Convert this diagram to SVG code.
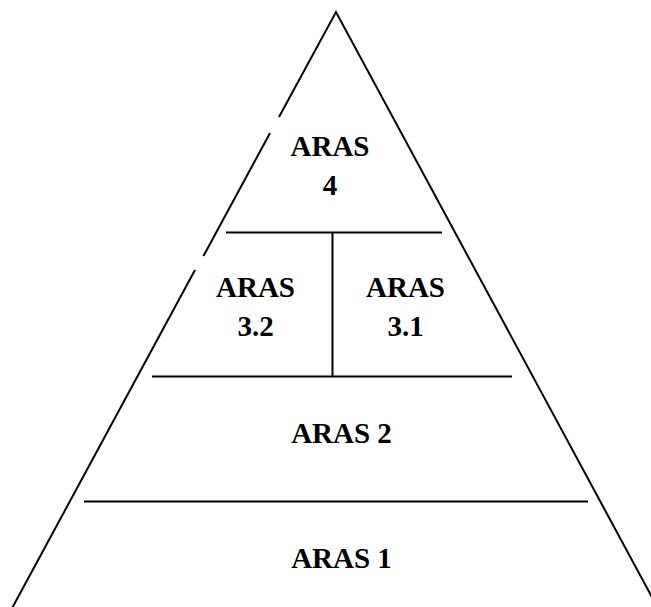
<svg xmlns="http://www.w3.org/2000/svg" width="651" height="607" viewBox="0 0 651 607">
<style>
.ln{stroke:#000;stroke-width:2;fill:none}
.t{font-family:"Liberation Serif","Times New Roman",serif;font-weight:bold;font-size:29px;text-anchor:middle;fill:#000}
</style>
<rect width="651" height="607" fill="#fff"/>
<g id="connectors">
<path class="ln" d="M279,117 L336,12 L660,612"/>
<path class="ln" d="M270,133 L203.5,256"/>
<path class="ln" d="M195,270 L10,612"/>
<line class="ln" x1="226" y1="232.5" x2="442" y2="232.5"/>
<line class="ln" x1="332.5" y1="232.5" x2="332.5" y2="376"/>
<line class="ln" x1="152" y1="376.5" x2="512" y2="376.5"/>
<line class="ln" x1="84" y1="501.5" x2="588" y2="501.5"/>
</g>
<g id="aras4"><text class="t" x="330" y="156">ARAS</text><text class="t" x="330" y="195">4</text></g>
<g id="aras32"><text class="t" x="255.5" y="297">ARAS</text><text class="t" x="255.5" y="336">3.2</text></g>
<g id="aras31"><text class="t" x="405.5" y="297">ARAS</text><text class="t" x="405.5" y="336">3.1</text></g>
<g id="aras2"><text class="t" x="341.5" y="443">ARAS 2</text></g>
<g id="aras1"><text class="t" x="341.5" y="568">ARAS 1</text></g>
</svg>
